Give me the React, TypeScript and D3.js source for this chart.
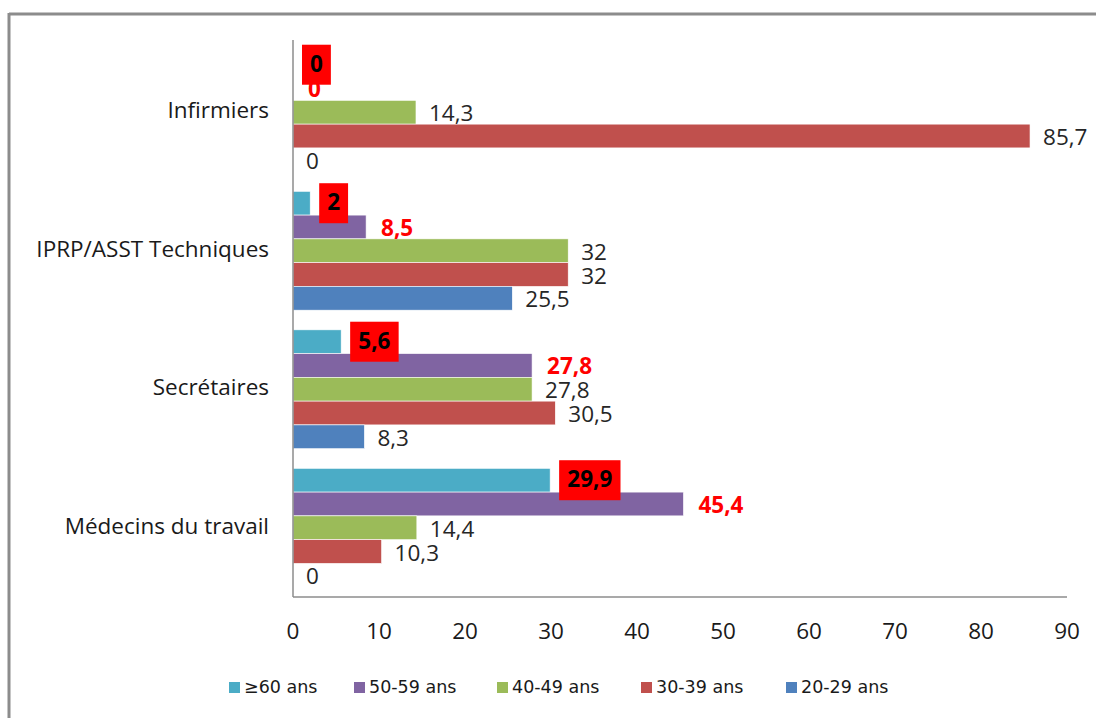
import * as d3 from "d3";

// categories, top to bottom as drawn
const categories = ["Infirmiers", "IPRP/ASST Techniques", "Secrétaires", "Médecins du travail"];

// series, top to bottom inside each group
const seriesNames = ["≥60 ans", "50-59 ans", "40-49 ans", "30-39 ans", "20-29 ans"];
const seriesColors = ["#4BACC6", "#8064A2", "#9BBB59", "#C0504D", "#4F81BD"];

// values per series, same order as categories
const ans60 = [0, 2, 5.6, 29.9];
const ans50 = [0, 8.5, 27.8, 45.4];
const ans40 = [14.3, 32, 27.8, 14.4];
const ans30 = [85.7, 32, 30.5, 10.3];
const ans20 = [0, 25.5, 8.3, 0];
const seriesValues = [ans60, ans50, ans40, ans30, ans20];

const xTicks = [0, 10, 20, 30, 40, 50, 60, 70, 80, 90];

const W = 1096;
const H = 718;
const font = "'Open Sans', sans-serif";
const fs = 22.5;

const fmt = (v: number) => String(v).replace(".", ",");

// rough bold width, for the red boxes
const boldWidth = (s: string) =>
  s.split("").reduce((w, c) => w + (c === "," ? 0.3 : 0.572), 0) * fs;

export default function App() {
  const x = d3.scaleLinear().domain([0, 90]).range([293, 1067]);
  const y = d3
    .scaleBand<string>()
    .domain(categories)
    .range([43, 597])
    .paddingInner(0.142)
    .paddingOuter(0.071);
  const inner = d3
    .scaleBand<string>()
    .domain(seriesNames)
    .range([0, y.bandwidth()]);
  const bh = inner.bandwidth();

  // legend item x positions (square left edge)
  const legendX = [229, 354, 497, 641, 786];

  // flat list of cells so bars go down before the labels
  const cells = categories.flatMap((cat, ci) =>
    seriesNames.map((s, si) => {
      const v = seriesValues[si][ci];
      const y0 = (y(cat) ?? 0) + (inner(s) ?? 0);
      return { cat, s, si, v, y0, cy: y0 + bh / 2, xe: x(v) };
    }),
  );

  return (
    <div style={{ position: "absolute", left: 0, top: 0 }}>
      <svg width={W} height={H} style={{ display: "block", background: "#fff" }}>
        {/* outer frame, top + left edges only visible */}
        <line x1={9} y1={14} x2={W} y2={14} stroke="#8c8c8c" strokeWidth={3} />
        <line x1={9} y1={13} x2={9} y2={H} stroke="#8c8c8c" strokeWidth={3} />

        {cells
          .filter((c) => c.v > 0)
          .map((c) => (
            <rect
              key={c.cat + c.s}
              x={x(0)}
              y={c.y0}
              width={c.xe - x(0)}
              height={bh}
              fill={seriesColors[c.si]}
              stroke="#fff"
              strokeWidth={0.6}
            />
          ))}

        {/* axes */}
        <line x1={x(0)} y1={40} x2={x(0)} y2={597} stroke="#8c8c8c" strokeWidth={1.5} />
        <line x1={x(0)} y1={597} x2={x(90)} y2={597} stroke="#8c8c8c" strokeWidth={1.5} />

        {/* plain labels first, then red ones, boxes on top */}
        {cells
          .filter((c) => c.si >= 2)
          .map((c) => (
            <text
              key={"l" + c.cat + c.s}
              x={c.xe + 13}
              y={c.cy + 3}
              dominantBaseline="middle"
              fontFamily={font}
              fontSize={fs}
              fill="#262626"
            >
              {fmt(c.v)}
            </text>
          ))}
        {cells
          .filter((c) => c.si === 1)
          .map((c) => (
            <text
              key={"l" + c.cat + c.s}
              x={c.xe + 15}
              y={c.cy + 3}
              dominantBaseline="middle"
              fontFamily={font}
              fontSize={fs}
              fontWeight="bold"
              fill="#FF0000"
            >
              {fmt(c.v)}
            </text>
          ))}
        {cells
          .filter((c) => c.si === 0)
          .map((c) => {
            const txt = fmt(c.v);
            const bw = boldWidth(txt) + 16;
            return (
              <g key={"l" + c.cat + c.s}>
                <rect x={c.xe + 9} y={c.cy - 20} width={bw} height={40} fill="#FF0000" />
                <text
                  x={c.xe + 9 + bw / 2}
                  y={c.cy + 1}
                  textAnchor="middle"
                  dominantBaseline="middle"
                  fontFamily={font}
                  fontSize={fs}
                  fontWeight="bold"
                  fill="#000"
                >
                  {txt}
                </text>
              </g>
            );
          })}

        {categories.map((cat) => (
          <text
            key={cat}
            x={269}
            y={(y(cat) ?? 0) + y.bandwidth() / 2}
            textAnchor="end"
            dominantBaseline="middle"
            fontFamily={font}
            fontSize={fs}
            fill="#1a1a1a"
          >
            {cat}
          </text>
        ))}

        {xTicks.map((t) => (
          <text
            key={t}
            x={x(t)}
            y={633}
            textAnchor="middle"
            dominantBaseline="middle"
            fontFamily={font}
            fontSize={fs}
            fill="#1a1a1a"
          >
            {t}
          </text>
        ))}

        {/* legend */}
        {seriesNames.map((s, i) => (
          <g key={s}>
            <rect x={legendX[i]} y={682} width={11} height={11} fill={seriesColors[i]} />
            <text
              x={legendX[i] + 15}
              y={688}
              dominantBaseline="middle"
              fontFamily="'DejaVu Sans', sans-serif"
              fontSize={17.5}
              fill="#1a1a1a"
            >
              {s}
            </text>
          </g>
        ))}
      </svg>
    </div>
  );
}
